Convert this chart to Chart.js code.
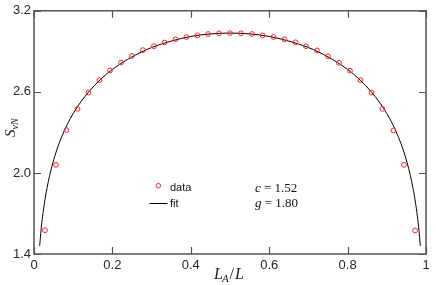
<!DOCTYPE html>
<html>
<head>
<meta charset="utf-8">
<script src="https://cdn.jsdelivr.net/npm/chart.js@4.4.0/dist/chart.umd.min.js"></script>
<style>
  html, body { margin: 0; padding: 0; background: #fff; }
  #wrap { width: 436px; height: 285px; }
</style>
</head>
<body>
<div id="wrap"><canvas id="entropyChart" width="436" height="285"></canvas></div>
<script>
// data
const dataX = [0.028, 0.056, 0.083, 0.111, 0.139, 0.167, 0.194, 0.222, 0.25, 0.278, 0.306, 0.333,
               0.361, 0.389, 0.417, 0.444, 0.472, 0.5, 0.528, 0.556, 0.583, 0.611, 0.639, 0.667,
               0.694, 0.722, 0.75, 0.778, 0.806, 0.833, 0.861, 0.889, 0.917, 0.944, 0.972];
const dataS = [1.576, 2.060, 2.317, 2.474, 2.595, 2.687, 2.759, 2.817, 2.866, 2.909, 2.938, 2.965,
               2.989, 3.006, 3.018, 3.028, 3.033, 3.035, 3.033, 3.028, 3.018, 3.006, 2.989, 2.967,
               2.938, 2.907, 2.864, 2.815, 2.757, 2.687, 2.595, 2.474, 2.314, 2.060, 1.574];

// fit curve, sampled by eye
const fitX = [0.0145, 0.018, 0.022, 0.027, 0.033, 0.040, 0.048, 0.058, 0.07, 0.085, 0.1, 0.12,
              0.14, 0.17, 0.2, 0.25, 0.3, 0.35, 0.4, 0.45, 0.5,
              0.55, 0.6, 0.65, 0.7, 0.75, 0.8, 0.83, 0.86, 0.88, 0.9, 0.915, 0.93,
              0.942, 0.952, 0.96, 0.967, 0.973, 0.978, 0.982, 0.9855];
const fitS = [1.46, 1.578, 1.680, 1.784, 1.885, 1.982, 2.074, 2.169, 2.263, 2.360, 2.440, 2.528,
              2.602, 2.693, 2.766, 2.859, 2.928, 2.976, 3.010, 3.029, 3.035,
              3.029, 3.010, 2.976, 2.928, 2.859, 2.766, 2.693, 2.602, 2.528, 2.440, 2.360, 2.263,
              2.169, 2.074, 1.982, 1.885, 1.784, 1.680, 1.578, 1.46];

const xTicks = [0, 0.2, 0.4, 0.6, 0.8, 1];
const xTickLabels = ['0', '0.2', '0.4', '0.6', '0.8', '1'];
const yTicks = [1.4, 2.0, 2.6, 3.2];
const yTickLabels = ['1.4', '2.0', '2.6', '3.2'];

const frameColor = '#555555';
const tickFont = { family: 'Liberation Sans', size: 13 };

// axes box, inward ticks, legend and text
const framePlugin = {
    id: 'frame',
    afterDraw(chart) {
        const { ctx, chartArea: a, scales } = chart;
        const tl = 7;
        ctx.save();
        ctx.strokeStyle = frameColor;
        ctx.lineWidth = 1.5;
        ctx.strokeRect(a.left, a.top, a.right - a.left, a.bottom - a.top);

        ctx.lineWidth = 1.2;
        ctx.beginPath();
        xTicks.forEach(v => {
            const px = Math.round(scales.x.getPixelForValue(v)) + 0.5;
            ctx.moveTo(px, a.bottom); ctx.lineTo(px, a.bottom - tl);
            ctx.moveTo(px, a.top); ctx.lineTo(px, a.top + tl);
        });
        yTicks.forEach(v => {
            const py = Math.round(scales.y.getPixelForValue(v)) + 0.5;
            ctx.moveTo(a.left, py); ctx.lineTo(a.left + tl, py);
            ctx.moveTo(a.right, py); ctx.lineTo(a.right - tl, py);
        });
        ctx.stroke();

        // legend
        ctx.strokeStyle = '#ff2020';
        ctx.lineWidth = 1;
        ctx.beginPath();
        ctx.arc(158.3, 185.7, 2.3, 0, Math.PI * 2);
        ctx.stroke();
        ctx.strokeStyle = '#000';
        ctx.beginPath();
        ctx.moveTo(149.5, 203.5); ctx.lineTo(167.5, 203.5);
        ctx.stroke();

        ctx.fillStyle = '#111';
        ctx.textBaseline = 'middle';
        ctx.textAlign = 'left';
        ctx.font = '11px "Liberation Sans"';
        ctx.fillText('data', 170, 188);
        ctx.fillText('fit', 170, 203.5);

        // fit parameters
        const param = (name, val, x, y) => {
            ctx.font = 'italic 13px "Liberation Serif"';
            ctx.fillText(name, x, y);
            const w = ctx.measureText(name).width;
            ctx.font = '13px "Liberation Serif"';
            ctx.fillText(' = ' + val, x + w, y);
        };
        param('c', '1.52', 255, 188.5);
        param('g', '1.80', 255, 203.5);

        // x title  L_A/L
        ctx.fillStyle = '#222';
        ctx.textBaseline = 'alphabetic';
        let x = 214;
        const yb = 279;
        ctx.font = 'italic 16px "Liberation Serif"';
        ctx.fillText('L', x, yb); x += ctx.measureText('L').width - 1;
        ctx.font = 'italic 11px "Liberation Serif"';
        ctx.fillText('A', x, yb + 3); x += ctx.measureText('A').width + 1;
        ctx.font = '16px "Liberation Serif"';
        ctx.fillText('/', x, yb); x += ctx.measureText('/').width + 1;
        ctx.font = 'italic 16px "Liberation Serif"';
        ctx.fillText('L', x, yb);

        // y title  S_vN
        ctx.translate(15, 137);
        ctx.rotate(-Math.PI / 2);
        ctx.font = 'italic 15px "Liberation Serif"';
        ctx.fillText('S', 0, 0);
        const sw = ctx.measureText('S').width;
        ctx.font = 'italic 10px "Liberation Serif"';
        ctx.fillText('vN', sw, 3);
        ctx.restore();
    }
};

const ctx = document.getElementById('entropyChart').getContext('2d');

new Chart(ctx, {
    type: 'scatter',
    data: {
        datasets: [{
            label: 'data',
            data: dataX.map((x, i) => ({ x: x, y: dataS[i] })),
            showLine: false,
            pointStyle: 'circle',
            pointRadius: 2.4,
            pointBorderWidth: 1,
            borderColor: '#ff2020',
            backgroundColor: 'rgba(0,0,0,0)',
            order: 1
        }, {
            label: 'fit',
            data: fitX.map((x, i) => ({ x: x, y: fitS[i] })),
            showLine: true,
            pointRadius: 0,
            borderColor: '#000',
            borderWidth: 1,
            cubicInterpolationMode: 'monotone',
            order: 2
        }]
    },
    options: {
        responsive: false,
        devicePixelRatio: 1,
        animation: false,
        layout: { padding: { left: 0, right: 10, top: 6, bottom: 0 } },
        plugins: {
            legend: { display: false },
            tooltip: { enabled: false }
        },
        scales: {
            x: {
                type: 'linear',
                min: 0,
                max: 1,
                grid: { display: false, drawTicks: false },
                border: { display: false },
                afterBuildTicks: s => { s.ticks = xTicks.map(v => ({ value: v })); },
                afterFit: s => { s.height = 31; },
                ticks: {
                    padding: 4,
                    color: '#262626',
                    font: tickFont,
                    maxRotation: 0,
                    callback: (v) => xTickLabels[xTicks.indexOf(v)]
                }
            },
            y: {
                type: 'linear',
                min: 1.4,
                max: 3.2,
                grid: { display: false, drawTicks: false },
                border: { display: false },
                afterBuildTicks: s => { s.ticks = yTicks.map(v => ({ value: v })); },
                afterFit: s => { s.width = 34; },
                ticks: {
                    padding: 3,
                    color: '#262626',
                    font: tickFont,
                    callback: (v) => yTickLabels[yTicks.indexOf(v)]
                }
            }
        }
    },
    plugins: [framePlugin]
});
</script>
</body>
</html>
